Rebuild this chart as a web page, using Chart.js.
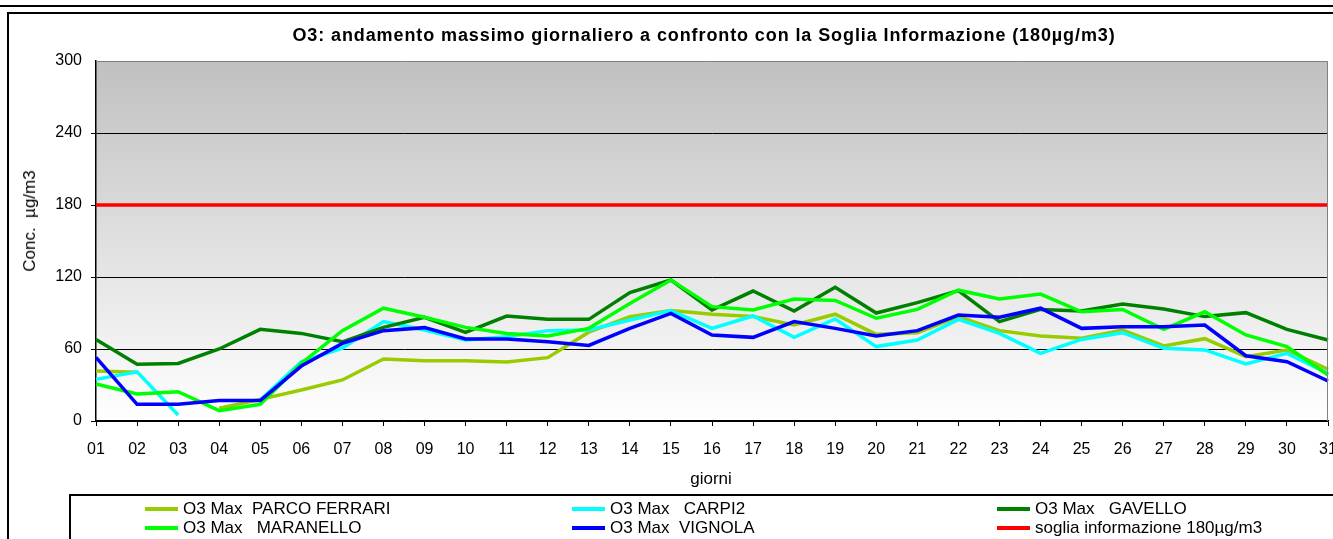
<!DOCTYPE html>
<html>
<head>
<meta charset="utf-8">
<script src="https://cdn.jsdelivr.net/npm/chart.js@4.4.0/dist/chart.umd.min.js"></script>
<style>
  html, body { margin: 0; padding: 0; background: #fff; }
  body { width: 1333px; height: 539px; overflow: hidden; position: relative; font-family: "Liberation Sans", Arial, sans-serif; }
  #c { position: absolute; left: 0; top: 0; }
  .abs { position: absolute; white-space: pre; color: #000; }
  #topline { position: absolute; left: 0; top: 5px; width: 1333px; height: 2px; background: #000; }
  #box { position: absolute; left: 7px; top: 12px; width: 2000px; height: 2000px; border-left: 2px solid #000; border-top: 2px solid #000; }
  #legend { position: absolute; left: 69px; top: 494px; width: 2000px; height: 2000px; border-left: 2px solid #000; border-top: 2px solid #000; }
  #title { font-weight: bold; font-size: 18px; letter-spacing: 0.9px; left: 704px; top: 35px; transform: translate(-50%, -50%); }
  #ytitle { font-size: 17px; left: 30px; top: 221px; transform: translate(-50%, -50%) rotate(-90deg); }
  #xtitle { font-size: 17px; left: 711px; top: 479px; transform: translate(-50%, -50%); }
  .lg-line { position: absolute; height: 4px; width: 33px; }
  .lg-text { position: absolute; font-size: 17px; transform: translateY(-50%); white-space: pre; }
</style>
</head>
<body>
<div id="topline"></div>
<div id="box"></div>
<canvas id="c" width="1333" height="539"></canvas>
<div id="legend"></div>
<div id="title" class="abs">O3: andamento massimo giornaliero a confronto con la Soglia Informazione (180µg/m3)</div>
<div id="ytitle" class="abs">Conc.  µg/m3</div>
<div id="xtitle" class="abs">giorni</div>
<div id="legendItems"></div>
<script>
// ---- Data ----
const days = ['01','02','03','04','05','06','07','08','09','10','11','12','13','14','15','16','17','18','19','20','21','22','23','24','25','26','27','28','29','30','31'];
const yTicks = [0, 60, 120, 180, 240, 300];

const parcoFerrari = [41.7, 40.6, null, 10.6, 18, 25.8, 34.2, 51.7, 50.3, 50.3, 49.2, 52.8, 74, 87, 92, 88.9, 87, 80, 89, 72.2, 73.6, 87, 75.3, 70.8, 68.9, 75.8, 62.5, 68.6, 53.6, 59.2, 43];
const carpi2 = [34.7, 41, 5, null, 17.5, 49.4, 60.6, 82.8, 75.8, 67.5, 70.3, 75.3, 75.8, 84.2, 92, 77.2, 87.5, 69.7, 85, 62, 67.5, 84.7, 73, 56.4, 68, 73.6, 60.6, 59.2, 47.5, 56.4, 39.7];
const gavello = [68, 47.2, 48, 60, 76.4, 73, 66, 78, 86.4, 73.9, 87.5, 84.7, 84.7, 107, 117.5, 92.5, 108.3, 91.7, 111.4, 90, 98.6, 108.6, 82.8, 93, 91.7, 97.5, 93.3, 87, 90.3, 76.4, 67.5];
const maranello = [30.8, 22.5, 24.4, 8.6, 13.9, 48, 75.3, 94, 86.4, 78, 73, 70.8, 77.2, 98, 117.5, 95.3, 92.5, 101.7, 100.5, 85.6, 93, 109, 101.7, 105.8, 91, 93, 76.4, 91, 71.7, 62, 38.3];
const vignola = [53, 13.9, 13.9, 17, 17, 45.8, 64.7, 75.3, 77.8, 68.3, 68.3, 66, 63, 77.2, 89.7, 71.7, 69.7, 82.8, 77.2, 70.8, 75.3, 88.3, 86.4, 94, 77.2, 78.6, 78.6, 80, 54.4, 49.4, 33.3];
const soglia = [180,180,180,180,180,180,180,180,180,180,180,180,180,180,180,180,180,180,180,180,180,180,180,180,180,180,180,180,180,180,180];

const seriesNames = ['O3 Max  PARCO FERRARI', 'O3 Max   CARPI2', 'O3 Max   GAVELLO', 'O3 Max   MARANELLO', 'O3 Max  VIGNOLA', 'soglia informazione 180µg/m3'];
const seriesColors = ['#99CC00', '#00FFFF', '#008000', '#00FF00', '#0000FF', '#FF0000'];
const seriesData = [parcoFerrari, carpi2, gavello, maranello, vignola, soglia];

// ---- Legend (HTML) ----
const legendPos = [[145, 509], [572, 509], [997, 509], [145, 528], [572, 528], [997, 528]];
const lg = document.getElementById('legendItems');
seriesNames.forEach((name, i) => {
  const [lx, ly] = legendPos[i];
  const line = document.createElement('div');
  line.className = 'lg-line';
  line.style.left = lx + 'px';
  line.style.top = (ly - 2) + 'px';
  line.style.background = seriesColors[i];
  lg.appendChild(line);
  const t = document.createElement('div');
  t.className = 'lg-text';
  t.style.left = (lx + 38) + 'px';
  t.style.top = ly + 'px';
  t.textContent = name;
  lg.appendChild(t);
});

// ---- Chart ----
const bgPlugin = {
  id: 'plotBg',
  beforeDraw(chart) {
    const {ctx, chartArea: a} = chart;
    const g = ctx.createLinearGradient(0, a.top, 0, a.bottom);
    g.addColorStop(0, '#C0C0C0');
    g.addColorStop(1, '#FFFFFF');
    ctx.save();
    ctx.fillStyle = g;
    ctx.fillRect(a.left, a.top, a.right - a.left, a.bottom - a.top);
    ctx.restore();
  },
  afterDraw(chart) {
    const {ctx, chartArea: a} = chart;
    ctx.save();
    ctx.strokeStyle = '#808080';
    ctx.lineWidth = 1;
    ctx.beginPath();
    ctx.moveTo(a.left, a.top + 0.5);
    ctx.lineTo(a.right - 0.5, a.top + 0.5);
    ctx.lineTo(a.right - 0.5, a.bottom);
    ctx.stroke();
    ctx.restore();
  }
};

const datasets = seriesData.map((d, i) => ({
  label: seriesNames[i],
  data: d,
  borderColor: seriesColors[i],
  backgroundColor: seriesColors[i],
  borderWidth: 3.5,
  pointRadius: 0,
  pointHoverRadius: 0,
  tension: 0,
  fill: false,
  spanGaps: false,
  order: seriesData.length - i
}));

new Chart(document.getElementById('c'), {
  type: 'line',
  data: { labels: days, datasets },
  plugins: [bgPlugin],
  options: {
    responsive: false,
    devicePixelRatio: 1,
    animation: false,
    events: [],
    layout: { padding: { left: 0, top: 61, right: 5, bottom: 0 } },
    plugins: { legend: { display: false }, title: { display: false }, tooltip: { enabled: false } },
    scales: {
      x: {
        type: 'category',
        offset: false,
        grid: { drawOnChartArea: false, drawTicks: true, tickLength: 5, color: '#000', lineWidth: 1 },
        border: { display: true, color: '#000', width: 1.5 },
        ticks: { autoSkip: false, maxRotation: 0, minRotation: 0, padding: 14, color: '#000', font: { family: '"Liberation Sans", Arial, sans-serif', size: 16 } },
        afterFit(s) { s.height = 118; s.paddingLeft = 0; s.paddingRight = 0; }
      },
      y: {
        min: 0, max: 300,
        afterBuildTicks(s) { s.ticks = yTicks.map(v => ({ value: v })); },
        grid: {
          drawTicks: true, tickLength: 5, lineWidth: 1,
          color: (c) => (c.tick && c.tick.value === 300) ? 'rgba(0,0,0,0)' : '#000'
        },
        border: { display: true, color: '#000', width: 1.5 },
        ticks: { padding: 9, color: '#000', font: { family: '"Liberation Sans", Arial, sans-serif', size: 16 } },
        afterFit(s) { s.width = 96; s.paddingTop = 0; s.paddingBottom = 0; }
      }
    }
  }
});
</script>
</body>
</html>
